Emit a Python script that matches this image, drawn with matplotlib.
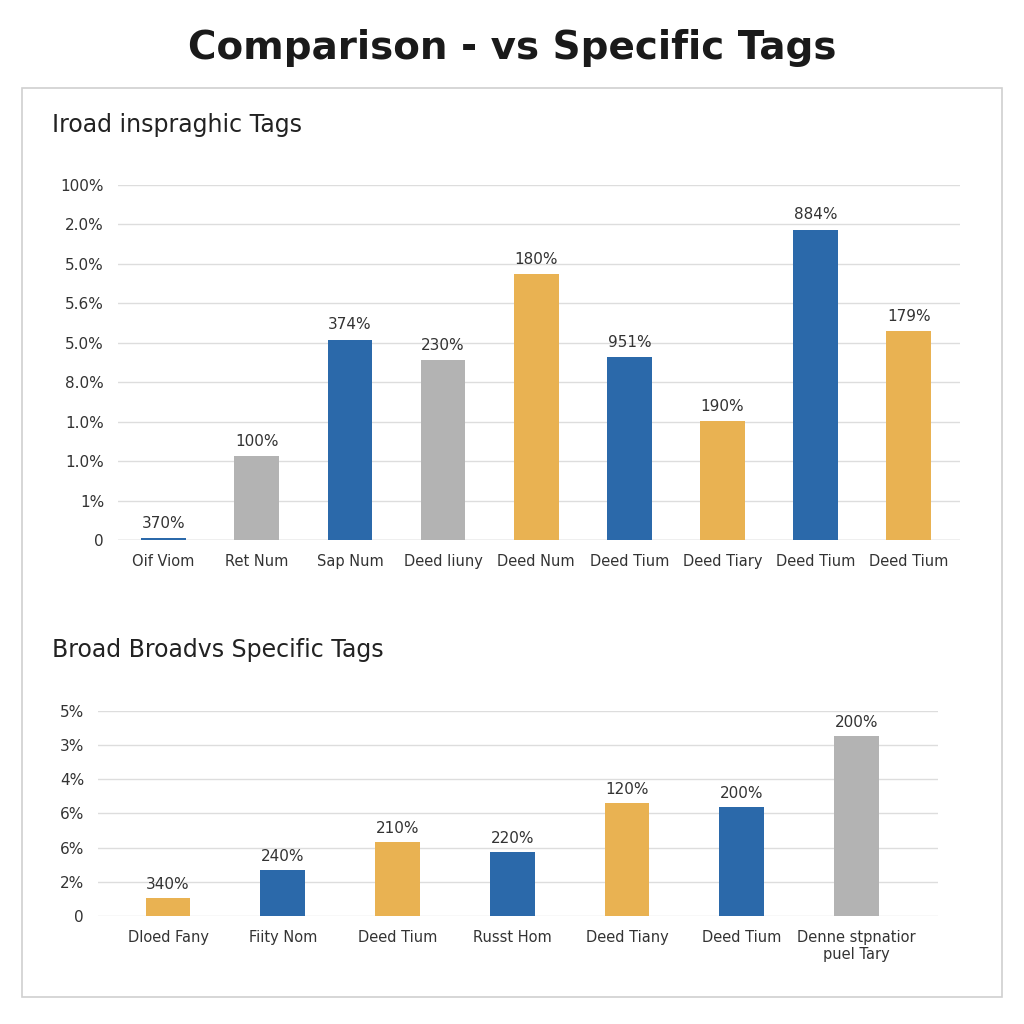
import matplotlib
matplotlib.use("Agg")
import matplotlib.pyplot as plt
from matplotlib.patches import Rectangle

BLUE = "#2b69aa"
GREY = "#b3b3b3"
GOLD = "#e9b252"

# top chart
top_cats = ["Oif Viom", "Ret Num", "Sap Num", "Deed Iiuny", "Deed Num",
            "Deed Tium", "Deed Tiary", "Deed Tium", "Deed Tium"]
top_vals = [0.04, 2.13, 5.08, 4.57, 6.73, 4.64, 3.02, 7.87, 5.30]
top_labels = ["370%", "100%", "374%", "230%", "180%", "951%", "190%", "884%", "179%"]
top_colors = [BLUE, GREY, BLUE, GREY, GOLD, BLUE, GOLD, BLUE, GOLD]
top_ticks = ["0", "1%", "1.0%", "1.0%", "8.0%", "5.0%", "5.6%", "5.0%", "2.0%", "100%"]

# bottom chart
bot_cats = ["Dloed Fany", "Fiity Nom", "Deed Tium", "Russt Hom", "Deed Tiany",
            "Deed Tium", "Denne stpnatior\npuel Tary"]
bot_vals = [0.53, 1.35, 2.16, 1.87, 3.30, 3.19, 5.26]
bot_labels = ["340%", "240%", "210%", "220%", "120%", "200%", "200%"]
bot_colors = [GOLD, BLUE, GOLD, BLUE, GOLD, BLUE, GREY]
bot_ticks = ["0", "2%", "6%", "6%", "4%", "3%", "5%"]

fig = plt.figure(figsize=(10.24, 10.24), dpi=100)
fig.patch.set_facecolor("white")
fig.text(0.5, 0.953, "Comparison - vs Specific Tags", ha="center", va="center",
         fontsize=28, fontweight="bold", color="#1a1a1a")
fig.patches.append(Rectangle((22/1024, 1-997/1024), 980/1024, 909/1024,
                             transform=fig.transFigure, fill=False,
                             edgecolor="#d0d0d0", lw=1.2))


def draw(ax, cats, vals, labels, colors, ticks, width, xlim, fs_lab):
    x = list(range(len(cats)))
    bars = ax.bar(x, vals, width=width, color=colors, zorder=3)
    for b, lab in zip(bars, labels):
        ax.text(b.get_x() + b.get_width()/2, b.get_height() + 0.18, lab,
                ha="center", va="bottom", fontsize=fs_lab, color="#333333")
    ax.set_xlim(*xlim)
    ax.set_ylim(0, len(ticks) - 1)
    ax.set_yticks(range(len(ticks)))
    ax.set_yticklabels(ticks, fontsize=11, color="#333333")
    ax.set_xticks(x)
    ax.set_xticklabels(cats, fontsize=10.5, color="#333333")
    ax.tick_params(length=0, pad=10)
    ax.grid(axis="y", color="#dddddd", lw=1, zorder=0)
    for s in ax.spines.values():
        s.set_visible(False)


ax1 = fig.add_axes([118/1024, 0.4727, 842/1024, 0.3467])
draw(ax1, top_cats, top_vals, top_labels, top_colors, top_ticks, 0.48, (-0.49, 8.55), 11)
ax1.axhline(0, color="#cccccc", lw=1, zorder=2)
fig.text(52/1024, 1-125/1024, "Iroad inspraghic Tags", fontsize=17, va="center", color="#222222")

ax2 = fig.add_axes([98/1024, 0.1055, 840/1024, 0.2002])
draw(ax2, bot_cats, bot_vals, bot_labels, bot_colors, bot_ticks, 0.39, (-0.61, 6.71), 11)
fig.text(52/1024, 1-650/1024, "Broad Broadvs Specific Tags", fontsize=17, va="center", color="#222222")

fig.savefig("out.png", dpi=100, facecolor="white")
